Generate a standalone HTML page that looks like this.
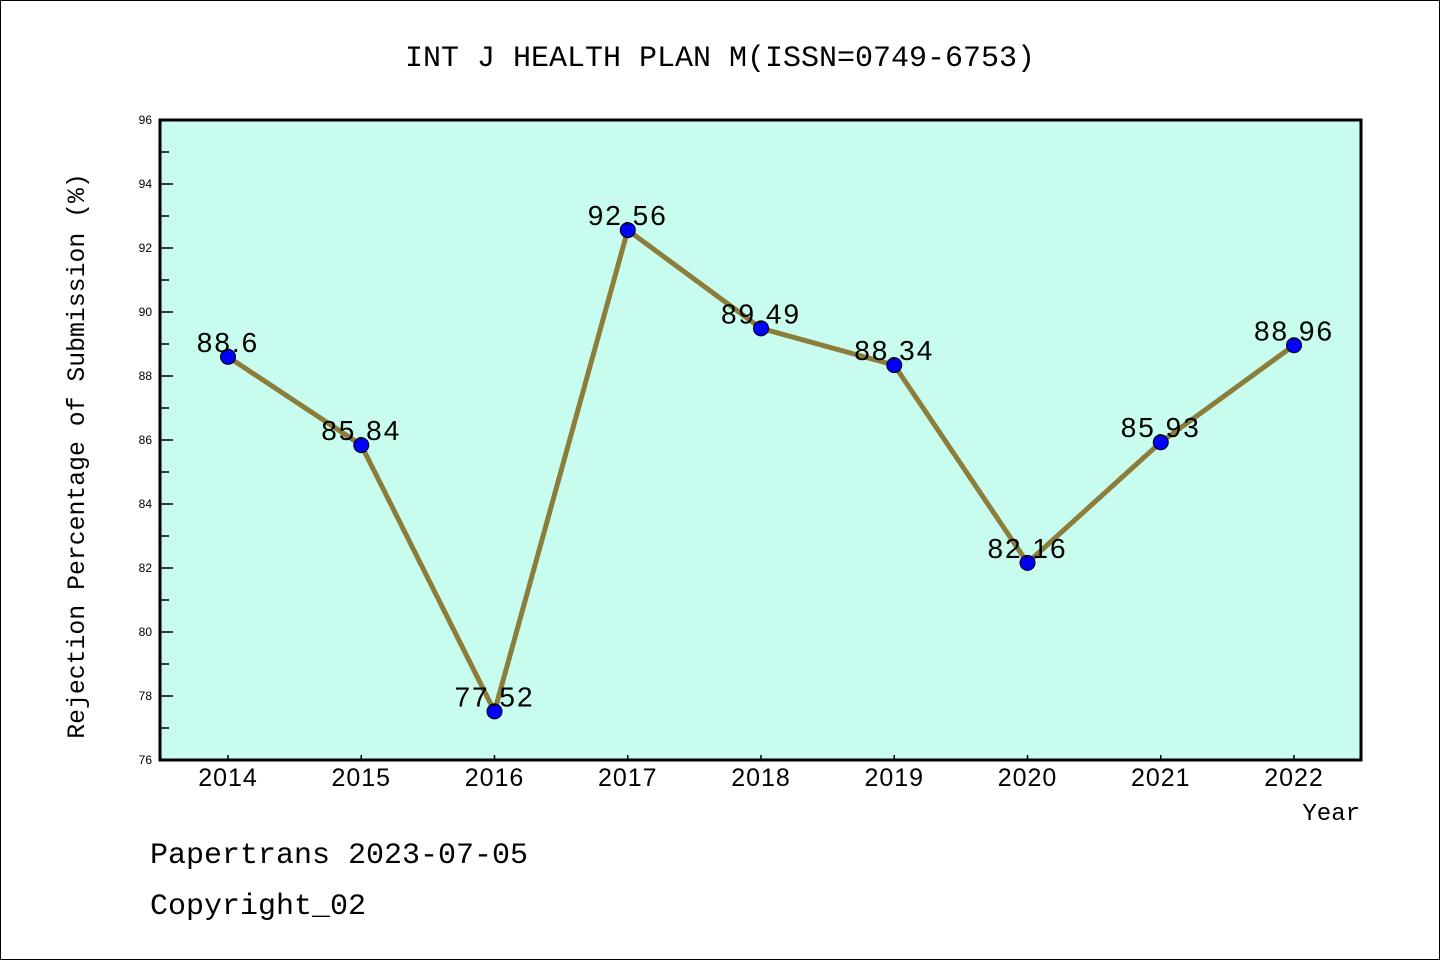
<!DOCTYPE html>
<html><head><meta charset="utf-8"><style>
html,body{margin:0;padding:0;background:#fff}
svg{display:block}
.mono{font-family:"Liberation Mono","DejaVu Sans Mono",monospace}
.sans{font-family:"Liberation Sans","DejaVu Sans",sans-serif}
</style></head><body>
<svg id="chart" width="1440" height="960" viewBox="0 0 1440 960">
<rect x="0.5" y="0.5" width="1439" height="959" fill="#fff" stroke="#000" stroke-width="1"/>
<text class="mono" x="720" y="66" text-anchor="middle" font-size="30">INT J HEALTH PLAN M(ISSN=0749-6753)</text>
<rect x="160" y="120" width="1201" height="640" fill="#c8fcee"/>
<g id="axes"></g>
<g id="series"></g>
<rect x="160" y="120" width="1201" height="640" fill="none" stroke="#000" stroke-width="3"/>
<text class="mono" transform="translate(84,456) rotate(-90)" text-anchor="middle" font-size="24.8">Rejection Percentage of Submission (%)</text>
<text class="mono" x="1360" y="820" text-anchor="end" font-size="24">Year</text>
<text class="mono" x="150" y="863" font-size="30">Papertrans 2023-07-05</text>
<text class="mono" x="150" y="914" font-size="30">Copyright_02</text>
</svg>
<script>
const years = ["2014","2015","2016","2017","2018","2019","2020","2021","2022"];
const values = [88.6, 85.84, 77.52, 92.56, 89.49, 88.34, 82.16, 85.93, 88.96];
const valueLabels = ["88.6","85.84","77.52","92.56","89.49","88.34","82.16","85.93","88.96"];
const yTicks = [76,78,80,82,84,86,88,90,92,94,96];
const yMin = 76, yMax = 96;
const NS = "http://www.w3.org/2000/svg";
function xPos(i){ return 228 + i * (1294 - 228) / (years.length - 1); }
function yPos(v){ return 760 - (v - yMin) / (yMax - yMin) * 640; }
function mk(tag, attrs, parent){
  const e = document.createElementNS(NS, tag);
  for (const k in attrs) e.setAttribute(k, attrs[k]);
  parent.appendChild(e); return e;
}
const axes = document.getElementById('axes');
const series = document.getElementById('series');
yTicks.forEach(t => {
  const y = yPos(t);
  const l = mk('line', {x1:160, x2:173, y1:y, y2:y, stroke:'#000', 'stroke-width':1.5}, axes);
  
  
  const tx = mk('text', {x:152, y:y+4, 'text-anchor':'end', 'font-size':12, class:'sans'}, axes);
  tx.textContent = t;
  
  
  if (t < yMax) {
    const ym = yPos(t + 1);
    const m = mk('line', {x1:160, x2:169, y1:ym, y2:ym, stroke:'#000', 'stroke-width':1.5}, axes);
    
    
  }
});
years.forEach((yr, i) => {
  const x = xPos(i);
  const l = mk('line', {x1:x, x2:x, y1:760, y2:755, stroke:'#000', 'stroke-width':1.5}, axes);
  
  
  const tx = mk('text', {x:x, y:786, 'text-anchor':'middle', 'font-size':25, 'letter-spacing':1, class:'sans'}, axes);
  tx.textContent = yr;
  
  
});
const pts = values.map((v, i) => xPos(i) + ',' + yPos(v)).join(' ');
const pl = mk('polyline', {points:pts, fill:'none', stroke:'#8c7d3a', 'stroke-width':5, 'stroke-linejoin':'round'}, series);


values.forEach((v, i) => {
  const c = mk('circle', {cx:xPos(i), cy:yPos(v), r:7.5, fill:'#0000ff', stroke:'#000', 'stroke-width':1}, series);
  
  
});
values.forEach((v, i) => {
  const t = mk('text', {x:xPos(i), y:yPos(v) - 5, 'text-anchor':'middle', 'font-size':28, 'letter-spacing':2, class:'sans'}, series);
  t.textContent = valueLabels[i];
  
  
});
</script>
</body></html>
